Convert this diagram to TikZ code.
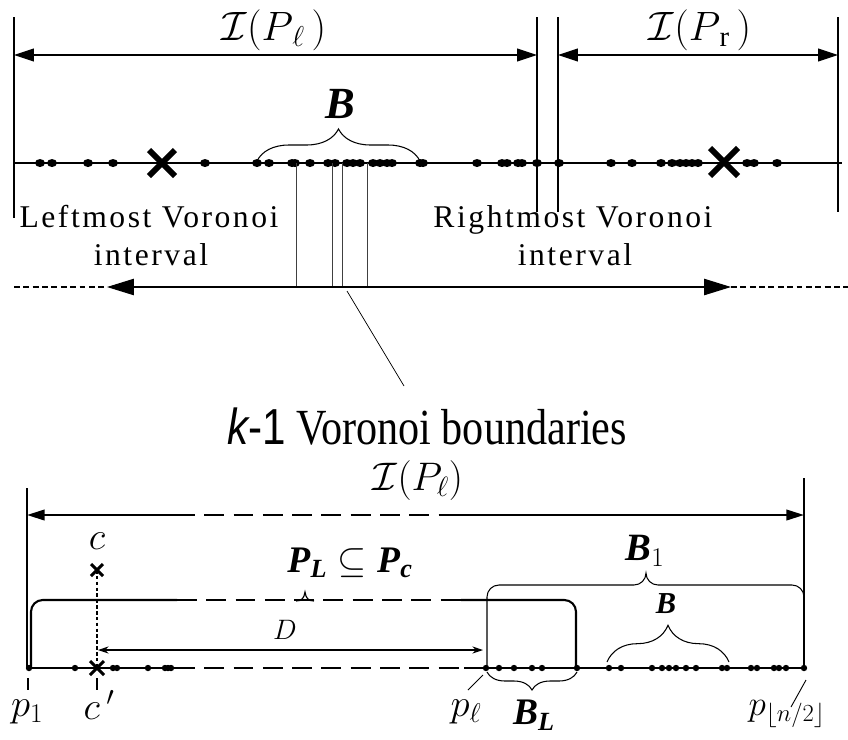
\RequirePackage{fix-cm}
\documentclass[tikz,border=0pt]{standalone}
\usepackage{amsmath}
\usepackage{amssymb}
\usepackage{graphicx}
\usepackage{fontspec}
\setmainfont{Liberation Serif}
\newfontfamily\spacedserif[LetterSpace=8]{Liberation Serif}
\newfontfamily\plainsans{Liberation Sans}
\usepackage {tikz}
\usetikzlibrary {positioning,arrows.meta,decorations.pathreplacing}
\newcommand{\bi}[1]{\textbf{\textit{#1}}}

\begin{document}
\begin{tikzpicture}[x=0.3mm, y=-0.3mm,
  thinline/.style={line width=0.9pt},
  thickline/.style={line width=1.8pt},
  boundary/.style={line width=0.8pt, black!75},
  shortdash/.style={dash pattern=on 5pt off 3pt},
  longdash/.style={dash pattern=on 17pt off 8pt},
  dimarrow/.style={{Triangle[length=17pt,width=11pt]}-{Triangle[length=17pt,width=11pt]}},
  bigcross/.style={line width=5pt},
  smallcross/.style={line width=2.5pt},
  toplabel/.style={font=\fontsize{35}{37}\selectfont},
  voronoilabel/.style={anchor=base, font=\spacedserif\fontsize{27}{29}\selectfont},
  lowlabel/.style={font=\fontsize{33}{35}\selectfont},
  bracetop/.style={decorate, decoration={brace, amplitude=#1}, line width=0.9pt},
  bracelow/.style={decorate, decoration={brace, mirror, amplitude=#1}, line width=0.9pt}]

\useasboundingbox (0,0) rectangle (848,739);

% upper figure
\coordinate (uL) at (14,17);   \coordinate (uLb) at (14,218);
\coordinate (uM1) at (537,17); \coordinate (uM1b) at (537,212);
\coordinate (uM2) at (558,17); \coordinate (uM2b) at (558,212);
\coordinate (uR) at (838,17);  \coordinate (uRb) at (838,212);
\draw[thinline] (uL) -- (uLb);
\draw[thinline] (uM1) -- (uM1b);
\draw[thinline] (uM2) -- (uM2b);
\draw[thinline] (uR) -- (uRb);

\coordinate (al0) at (14,55);  \coordinate (al1) at (537,55);
\coordinate (ar0) at (558,55); \coordinate (ar1) at (838,55);
\draw[thinline, dimarrow] (al0) -- (al1);
\draw[thinline, dimarrow] (ar0) -- (ar1);
\node[toplabel] (IPl) at (274,30) {$\mathcal{I}(P_{\,\ell}\,)$};
\node[toplabel] (IPr) at (700,30) {$\mathcal{I}(P_{\,\mathrm{r}}\,)$};

\coordinate (ax0) at (14,163); \coordinate (ax1) at (842,163);
\draw[thinline] (ax0) -- (ax1);
\foreach \x in {40,52,88,113,205,257,269,292,295,310,328,335,347,353,360,373,380,387,392,420,423,
                477,502,507,518,522,537,559,611,632,661,672,680,686,692,698,747,754,777}
  \fill (\x,163) ellipse (5 and 4);
\coordinate (xl) at (162,163);
\coordinate (xr) at (724,162);
\draw[bigcross] (xl) ++(-13,-13) -- ++(26,26) (xl) ++(-13,13) -- ++(26,-26);
\draw[bigcross] (xr) ++(-14,-14) -- ++(28,28) (xr) ++(-14,14) -- ++(28,-28);

\coordinate (bB0) at (257,161); \coordinate (bB1) at (420,161);
\draw[bracetop=9.6mm] (bB0) -- (bB1);
\node[font=\fontsize{38}{40}\selectfont] (Btop) at (340,104) {\bi{B}};

\foreach \x in {296,332,342,367}
  \draw[boundary] (\x,163) -- (\x,287);

\node[voronoilabel] (lv1) at (149,227) {Leftmost Voronoi};
\node[voronoilabel] (lv2) at (151,265) {interval};
\node[voronoilabel] (rv1) at (573,227) {Rightmost Voronoi};
\node[voronoilabel] (rv2) at (575,265) {interval};

\coordinate (da0) at (14,287);  \coordinate (ta0) at (107,287);
\coordinate (ta1) at (731,287); \coordinate (da1) at (848,287);
\draw[thinline, shortdash] (da0) -- (ta0);
\draw[thinline, {Triangle[length=23pt,width=14pt]}-{Triangle[length=23pt,width=14pt]}] (ta0) -- (ta1);
\draw[thinline, shortdash] (ta1) -- (da1);

\coordinate (ld0) at (347,291); \coordinate (ld1) at (404,386);
\draw[line width=0.6pt] (ld0) -- (ld1);
\node[anchor=base, font=\fontsize{36}{38}\selectfont] (kb) at (427,444)
  {\scalebox{1}[1.2]{{\plainsans\itshape k}{\plainsans -1} Voronoi boundaries}};

% lower figure
\coordinate (bL) at (27,488);  \coordinate (bLb) at (27,668);
\coordinate (bR) at (804,478); \coordinate (bRb) at (804,668);
\draw[thickline] (bL) -- (bLb);
\draw[thickline] (bR) -- (bRb);

\coordinate (ia0) at (27,515);  \coordinate (ia1) at (175,515);
\coordinate (ia2) at (454,515); \coordinate (ia3) at (804,515);
\draw[thickline, {Triangle[length=15pt,width=9pt]}-] (ia0) -- (ia1);
\draw[thickline, longdash] (ia1) -- (ia2);
\draw[thickline, -{Triangle[length=15pt,width=9pt]}] (ia2) -- (ia3);
\node[font=\fontsize{34}{36}\selectfont] (IPlow) at (418,481) {$\mathcal{I}(P_{\ell})$};

\coordinate (bx0) at (29,668);  \coordinate (bx1) at (175,668);
\coordinate (bx2) at (464,668); \coordinate (bx3) at (804,668);
\draw[thickline] (bx0) -- (bx1);
\draw[thickline, longdash] (bx1) -- (bx2);
\draw[thickline] (bx2) -- (bx3);

\coordinate (pb0) at (31,668);  \coordinate (pb1) at (31,600);
\coordinate (pb2) at (177,600); \coordinate (pb3) at (461,600);
\coordinate (pb4) at (576,600); \coordinate (pb5) at (576,667);
\draw[thickline, rounded corners=10] (pb0) -- (pb1) -- (pb2);
\draw[thickline, longdash] (pb2) -- (pb3);
\draw[thickline, rounded corners=10] (pb3) -- (pb4) -- (pb5);
\draw[line width=1pt] (296,601) .. controls (302,601) and (304,598) .. (305,592)
  .. controls (306,598) and (308,601) .. (314,601);
\node[font=\fontsize{32}{34}\selectfont] (PL) at (350,563) {$\bi{P}_{\bi{L}} \subseteq \bi{P}_{\bi{c}}$};

\foreach \x in {29,75,113,117,148,165,168,171,486,499,514,532,542,577,609,621,652,662,669,676,686,696,722,727,751,757,774,779,786,804}
  \fill (\x,668) circle (3.2);

\coordinate (cc) at (97,570);
\coordinate (cp) at (97,668);
\draw[line width=1.6pt, dash pattern=on 3pt off 2pt] (cc) -- (cp);
\draw[smallcross] (cc) ++(-6,-6) -- ++(12,12) (cc) ++(-6,6) -- ++(12,-12);
\draw[smallcross] (cp) ++(-7,-7) -- ++(14,14) (cp) ++(-7,7) -- ++(14,-14);
\node[lowlabel] (clab) at (97,541) {$c$};
\node[lowlabel] (cplab) at (99,705) {$c\,'$};

\coordinate (d0) at (98,650); \coordinate (d1) at (483,650);
\draw[line width=0.9pt, {Stealth[length=9pt,width=6pt]}-{Stealth[length=9pt,width=6pt]}] (d0) -- (d1);
\node[font=\fontsize{24}{26}\selectfont] (Dlab) at (285,630) {$D$};

\draw[line width=1pt] (28,678) -- (28,690);
\draw[line width=1pt] (97,678) -- (97,690);
\draw[line width=0.8pt] (483,675) -- (468,690);
\draw[line width=0.8pt] (806,680) -- (791,707);
\node[lowlabel] (p1) at (27,712) {$p_1$};
\node[lowlabel] (pl) at (466,712) {$p_{\ell}$};
\node[font=\fontsize{30}{32}\selectfont] (pn) at (787,714) {$p_{\lfloor n/2 \rfloor}$};

% braces of the lower figure
\draw[line width=0.9pt] (487,668) -- (487,597) to[out=90,in=180] (499,585) -- (634,585)
  to[out=0,in=-90] (646,573) to[out=-90,in=180] (658,585) -- (792,585) to[out=0,in=90] (804,597);
\node[lowlabel] (B1) at (645,551) {$\bi{B}_{1}$};

\coordinate (sb0) at (607,662); \coordinate (sb1) at (729,662);
\draw[bracetop=11mm] (sb0) -- (sb1);
\node[font=\fontsize{26}{28}\selectfont] (Bsmall) at (666,604) {\bi{B}};

\coordinate (bl0) at (487,672); \coordinate (bl1) at (577,672);
\draw[bracelow=5.4mm] (bl0) -- (bl1);
\node[font=\fontsize{32}{34}\selectfont] (BL) at (534,715) {$\bi{B}_{\bi{L}}$};

\end{tikzpicture}
\end{document}
